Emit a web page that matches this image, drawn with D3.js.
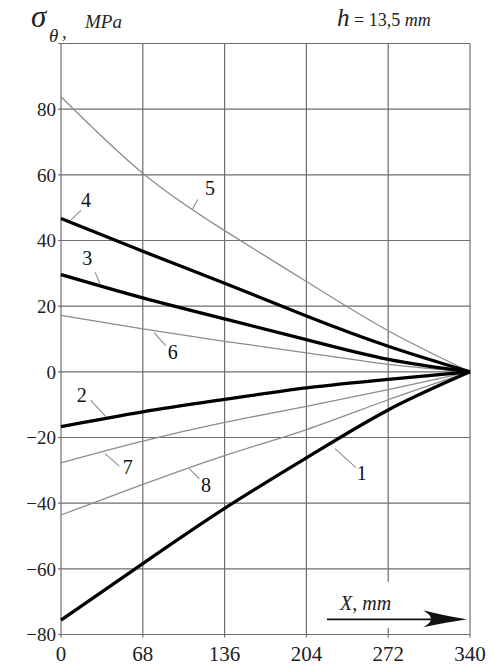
<!DOCTYPE html>
<html>
<head>
<meta charset="utf-8">
<script src="https://cdn.jsdelivr.net/npm/d3@7/dist/d3.min.js"></script>
<style>
html,body{margin:0;padding:0;background:#fff;}
svg{display:block;}
svg text{font-family:"Liberation Serif","Times New Roman",Times,"DejaVu Serif",serif;}
</style>
</head>
<body>
<svg id="chart" width="493" height="666"></svg>
<script>
// ---- data ----
const xValues = [0, 68, 136, 204, 272, 340];
const xTicks = [0, 68, 136, 204, 272, 340];
const yTicks = [-80, -60, -40, -20, 0, 20, 40, 60, 80];
const yGrid = [-80, -60, -40, -20, 0, 20, 40, 60, 80, 100];
const series1 = [-75.6, -58.4, -41.6, -26.2, -11.6, 0];
const series2 = [-16.7, -12.2, -8.4, -4.9, -2.3, 0];
const series3 = [29.6, 22.5, 16.1, 9.8, 3.8, 0];
const series4 = [46.7, 36.7, 27.0, 17.0, 7.8, 0];
const series5 = [83.8, 60.5, 43.0, 27.5, 12.5, 0];
const series6 = [17.2, 13.1, 9.3, 5.8, 2.3, 0];
const series7 = [-27.7, -21.1, -15.4, -10.5, -5.4, 0];
const series8 = [-43.6, -34.3, -25.5, -17.6, -8.5, 0];
const seriesNames = ["1","2","3","4","5","6","7","8"];
const thickSeries = ["1","2","3","4"];

// label annotations in data coordinates: [text x, text y, leader x1, y1, x2, y2]
const labelPlacement = {
  "1": [250, -30.6, 245.2, -29.2, 227.8, -23.4],
  "2": [17.2, -6.9, 24.7, -8.6, 37.4, -13.7],
  "3": [21.9, 34.8, 28.3, 30.3, 32.4, 26.9],
  "4": [20.8, 52.5, 16.6, 49.2, 8.3, 46.3],
  "5": [123.9, 56.1, 113.6, 52.5, 109.4, 49.6],
  "6": [92.9, 6.0, 87.0, 8.0, 77.6, 11.9],
  "7": [55.4, -28.9, 48.5, -28.7, 36.6, -24.9],
  "8": [120.5, -34.3, 115.0, -32.6, 106.7, -29.5]
};

const allSeries = {"1":series1,"2":series2,"3":series3,"4":series4,"5":series5,"6":series6,"7":series7,"8":series8};

// ---- layout ----
const svg = d3.select("#chart");
const mLeft = 61, mRight = 470, mTop = 43.5, mBottom = 634.5;
const x = d3.scaleLinear().domain([0, 340]).range([mLeft, mRight]);
const y = d3.scaleLinear().domain([-80, 100]).range([mBottom, mTop]);
const gridColor = "#6e6e6e";

// grid
const g = svg.append("g");
g.selectAll(".vg").data(xTicks).enter().append("line")
  .attr("x1", d => x(d)).attr("x2", d => x(d))
  .attr("y1", y(100)).attr("y2", y(-80) + 3)
  .attr("stroke", gridColor).attr("stroke-width", 1.2);
g.selectAll(".hg").data(yGrid).enter().append("line")
  .attr("x1", x(0) - 3).attr("x2", x(340))
  .attr("y1", d => y(d)).attr("y2", d => y(d))
  .attr("stroke", gridColor).attr("stroke-width", 1.2);

// y tick labels
g.selectAll(".yl").data(yTicks).enter().append("text")
  .attr("x", x(0) - 5).attr("y", d => y(d)).attr("dy", "0.36em")
  .attr("text-anchor", "end")
  .attr("font-size", 19).attr("fill", "#222")
  .text(d => d < 0 ? "\u2212" + Math.abs(d) : d);

// x tick labels
g.selectAll(".xl").data(xTicks).enter().append("text")
  .attr("x", d => x(d)).attr("y", 661)
  .attr("text-anchor", "middle")
  .attr("font-size", 21).attr("fill", "#222")
  .text(d => d);

// curves
const line = d3.line().x((d, i) => x(xValues[i])).y(d => y(d)).curve(d3.curveNatural);
const order = ["5","6","7","8","1","2","3","4"];
order.forEach(k => {
  const thick = thickSeries.includes(k);
  svg.append("path").datum(allSeries[k])
    .attr("d", line)
    .attr("fill", "none")
    .attr("stroke", thick ? "#000" : "#8c8c8c")
    .attr("stroke-width", thick ? 3.3 : 1.3)
    .attr("stroke-linejoin", "round");
});

// labels and leaders
seriesNames.forEach(k => {
  const p = labelPlacement[k];
  svg.append("line")
    .attr("x1", x(p[2])).attr("y1", y(p[3]))
    .attr("x2", x(p[4])).attr("y2", y(p[5]))
    .attr("stroke", "#8c8c8c").attr("stroke-width", 1.1);
  svg.append("text")
    .attr("x", x(p[0])).attr("y", y(p[1])).attr("dy", "0.36em")
    .attr("text-anchor", "middle")
    .attr("font-size", 20).attr("fill", "#111")
    .text(k);
});

// X axis label with arrow
svg.append("rect")
  .attr("x", x(223)).attr("y", y(-64)).attr("width", x(338) - x(223)).attr("height", y(-78) - y(-64))
  .attr("fill", "#fff");
const xl = svg.append("text").attr("x", 340).attr("y", 610)
  .attr("font-size", 20).attr("fill", "#222");
xl.append("tspan").attr("font-style", "italic").text("X");
xl.append("tspan").text(", ");
xl.append("tspan").attr("font-style", "italic").text("mm");
const ay = 619.3, ax2 = x(340) - 3;
svg.append("line").attr("x1", 327).attr("x2", ax2 - 10).attr("y1", ay).attr("y2", ay)
  .attr("stroke", "#111").attr("stroke-width", 1.8);
svg.append("path")
  .attr("d", `M${ax2 - 44},${ay - 9} Q${ax2 - 20},${ay - 3} ${ax2},${ay} Q${ax2 - 20},${ay + 3} ${ax2 - 44},${ay + 8} Q${ax2 - 28},${ay} ${ax2 - 44},${ay - 9} Z`)
  .attr("fill", "#111");

// title left
svg.append("text").attr("x", 31).attr("y", 27)
  .attr("font-style", "italic").attr("font-size", 31).attr("fill", "#222").text("\u03C3");
svg.append("text").attr("x", 49).attr("y", 42)
  .attr("font-style", "italic").attr("font-size", 19).attr("fill", "#222").text("\u03B8");
svg.append("text").attr("x", 62).attr("y", 38)
  .attr("font-size", 19).attr("fill", "#222").text(",");
svg.append("text").attr("x", 85).attr("y", 28)
  .attr("font-style", "italic").attr("font-size", 19).attr("fill", "#222")
  .text("MPa");

// title right
const t2 = svg.append("text").attr("x", 337).attr("y", 26).attr("fill", "#222");
t2.append("tspan").attr("font-style", "italic").attr("font-size", 25).text("h");
t2.append("tspan").attr("font-size", 18).text(" = 13,5 ");
t2.append("tspan").attr("font-style", "italic").attr("font-size", 18).text("mm");
</script>
</body>
</html>
